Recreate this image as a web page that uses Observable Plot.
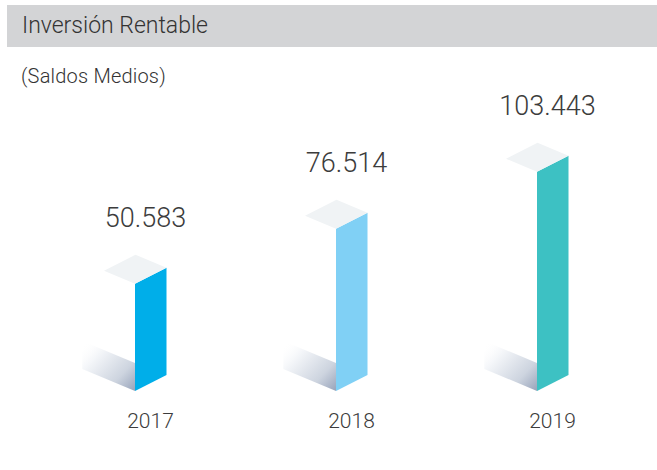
<!DOCTYPE html>
<html><head><meta charset="utf-8">
<script src="https://cdn.jsdelivr.net/npm/d3@7"></script>
<script src="https://cdn.jsdelivr.net/npm/@observablehq/plot@0.6"></script>
<style>
body{margin:0;background:#fff;font-family:Roboto,sans-serif;}
#wrap{position:relative;width:657px;height:470px;}
#chart{position:absolute;left:0;top:0;}
#chart svg{display:block;}
#title{position:absolute;left:7px;top:5px;right:0;height:42px;background:#d3d4d6;color:#333;font-weight:300;font-size:23px;line-height:42px;padding-left:15px;z-index:2;}
#subtitle{position:absolute;left:21px;top:66px;font-size:20px;line-height:20px;font-weight:300;color:#333;letter-spacing:0.2px;z-index:2;}
</style></head><body>
<div id="wrap">
<div id="chart"></div>
<div id="title">Inversión Rentable</div>
<div id="subtitle">(Saldos Medios)</div>
</div>
<script>
const years = ["2017", "2018", "2019"];
const values = [50583, 76514, 103443];
const colors = ["#00aee9", "#80d0f5", "#3dc1c3"];

const data = years.map((year, i) => ({year, value: values[i], color: colors[i]}));
const fmt = d3.formatLocale({decimal: ",", thousands: ".", grouping: [3], currency: ["", "€"]}).format(",d");

function prisms(index, scales) {
  const g = d3.create("svg:g");
  const defs = g.append("defs");
  const grad = defs.append("linearGradient").attr("id", "shade")
    .attr("x1", 1).attr("y1", 1).attr("x2", 0).attr("y2", 0.1);
  grad.append("stop").attr("offset", 0).attr("stop-color", "#97a3ba");
  grad.append("stop").attr("offset", 0.3).attr("stop-color", "#cdd4df");
  grad.append("stop").attr("offset", 0.75).attr("stop-color", "#f4f6f9");
  grad.append("stop").attr("offset", 1).attr("stop-color", "#ffffff").attr("stop-opacity", 0);
  const ux = 31.5, uy = -16, vx = -31, vy = -13, sh = 28, sk = 1.7;
  const P = pts => "M" + pts.map(p => p.join(",")).join("L") + "Z";
  for (const d of data) {
    const ax = scales.x(d.year), ay = scales.y(d.value), by = scales.y(0);
    g.append("path").attr("fill", "url(#shade)")
      .attr("d", P([[ax, by], [ax, by - sh], [ax + sk * vx, by - sh + sk * vy], [ax + sk * vx, by + sk * vy]]));
    g.append("path").attr("fill", d.color)
      .attr("d", P([[ax, ay], [ax + ux, ay + uy], [ax + ux, by + uy], [ax, by]]));
    g.append("path").attr("fill", "#f0f3f5")
      .attr("d", P([[ax, ay], [ax + ux, ay + uy], [ax + ux + vx, ay + uy + vy], [ax + vx, ay + vy]]));
  }
  return g.node();
}

const base = 391;
const chart = Plot.plot({
  width: 657,
  height: 470,
  marginBottom: 470 - base,
  style: {fontFamily: "Roboto", background: "#fff"},
  x: {type: "point", domain: years, range: [135, 537], padding: 0, label: null},
  y: {domain: [0, 120000], range: [base, base - 0.00212 * 120000], axis: null},
  marks: [
    prisms,
    Plot.text(data, {x: "year", y: "value", text: d => fmt(d.value), dx: 10, dy: -66,
      fontSize: 27, fontWeight: 300, fill: "#3c3c3c"}),
    Plot.axisX({tickSize: 0, tickPadding: 22, fontSize: 21, fontWeight: 300, dx: 15, fill: "#3c3c3c", label: null})
  ]
});
document.getElementById("chart").appendChild(chart);
</script>
</body></html>
